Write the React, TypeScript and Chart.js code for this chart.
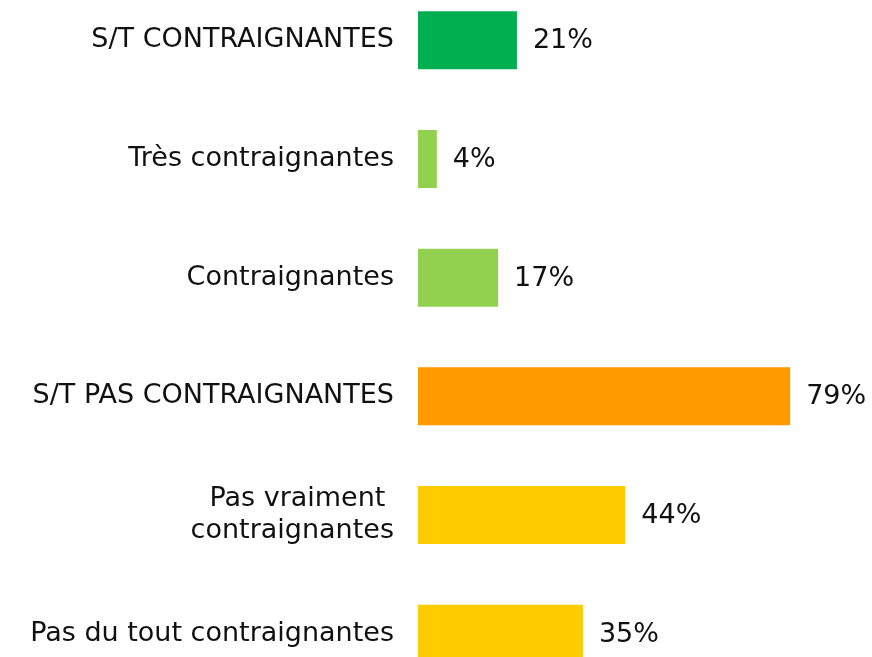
import React, { useEffect, useRef } from "react";
import { Chart, registerables } from "chart.js";

Chart.register(...registerables);

const categories: (string | string[])[] = [
  "S/T CONTRAIGNANTES",
  "Très contraignantes",
  "Contraignantes",
  "S/T PAS CONTRAIGNANTES",
  ["Pas vraiment ", "contraignantes"],
  "Pas du tout contraignantes",
];
const values: number[] = [21, 4, 17, 79, 44, 35];
const barColors: string[] = ["#00B050", "#92D050", "#92D050", "#FF9900", "#FFCC00", "#FFCC00"];

const FONT = "'DejaVu Sans', Verdana, sans-serif";

const valueLabels = {
  id: "valueLabels",
  afterDatasetsDraw(chart: any) {
    const ctx = chart.ctx;
    const meta = chart.getDatasetMeta(0);
    ctx.save();
    ctx.font = `27px ${FONT}`;
    ctx.fillStyle = "#111";
    ctx.textAlign = "left";
    ctx.textBaseline = "middle";
    meta.data.forEach((bar: any, i: number) => {
      ctx.fillText(`${values[i]}%`, bar.x + 16, bar.y + 1);
    });
    ctx.restore();
  },
};

export default function App() {
  const ref = useRef<HTMLCanvasElement>(null);
  useEffect(() => {
    if (!ref.current) return;
    const chart = new Chart(ref.current, {
      type: "bar",
      data: {
        labels: categories,
        datasets: [
          {
            data: values,
            backgroundColor: barColors,
            borderWidth: 0,
            barPercentage: 0.489,
            categoryPercentage: 1,
          },
        ],
      },
      options: {
        indexAxis: "y",
        animation: false,
        responsive: true,
        maintainAspectRatio: false,
        layout: { padding: { left: 0, right: 30, top: 0, bottom: 0 } },
        plugins: { legend: { display: false }, tooltip: { enabled: false } },
        scales: {
          x: { display: false, min: 0, max: 90 },
          y: {
            grid: { display: false, drawTicks: false },
            border: { display: false },
            ticks: {
              padding: 24,
              color: "#111",
              font: { family: FONT, size: 27, lineHeight: 1.2 },
            },
            afterFit: (scale: any) => {
              scale.width = 418;
              scale.paddingTop = 0;
              scale.paddingBottom = 0;
            },
          },
        },
      },
      plugins: [valueLabels],
    });
    return () => chart.destroy();
  }, []);
  return (
    <div style={{ position: "fixed", left: 0, top: 0, width: 872, height: 657, overflow: "hidden", background: "#fff" }}>
      <div style={{ position: "absolute", left: 0, top: -19, width: 872, height: 712 }}>
        <canvas ref={ref} />
      </div>
    </div>
  );
}
